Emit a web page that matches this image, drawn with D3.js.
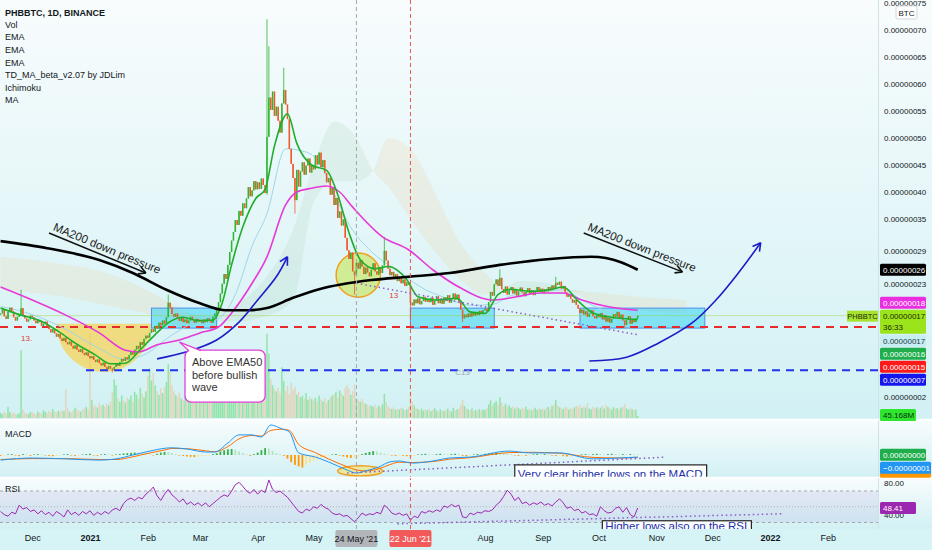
<!DOCTYPE html>
<html>
<head>
  <meta charset="utf-8">
  <title>PHBBTC, 1D, BINANCE</title>
  <script src="https://cdnjs.cloudflare.com/ajax/libs/d3/7.8.5/d3.min.js"></script>
  <style>
    body { margin: 0; background: #e3f6f8; }
    svg { display: block; font-family: "Liberation Sans", Arial, sans-serif; }
  </style>
</head>
<body>
<script>
// prices are in satoshi (1 = 0.00000001 BTC), one daily candle from firstDay on
var firstDay = "2020-11-14";
var firstOpen = 17.3;
var closes = [
  // Nov 2020
  17.5, 18.2, 17.0, 16.5, 17.8, 18.6, 17.9, 16.8, 16.2, 16.9, 17.4, 18.5, 17.2, 16.6, 16.0, 16.4, 17.1,
  // Dec
  16.8, 16.2, 15.7, 16.3, 15.9, 15.2, 15.6, 16.0, 15.1, 14.6, 14.0, 14.6, 13.8, 13.2, 13.7, 12.9,
  12.4, 13.0, 12.2, 11.8, 12.3, 11.5, 11.0, 11.6, 10.8, 10.4, 10.9, 10.2, 9.8, 10.3, 9.6,
  // Jan 2021
  9.2, 9.6, 8.9, 8.5, 9.0, 8.3, 7.9, 8.4, 7.6, 7.2, 7.8, 7.3, 7.0, 7.6, 8.2, 7.8,
  8.5, 9.1, 8.7, 9.4, 9.0, 9.8, 10.4, 9.9, 10.8, 11.5, 11.0, 12.2, 11.7, 12.8, 13.4,
  // Feb
  13.0, 13.9, 14.6, 14.1, 15.2, 14.7, 15.8, 15.3, 16.2, 15.6, 16.8, 19.5, 18.6, 17.4,
  16.9, 17.5, 16.6, 16.1, 16.7, 15.9, 16.4, 15.7, 16.2, 16.9, 16.3, 15.8, 16.5, 16.0,
  // Mar
  16.2, 15.7, 16.4, 15.9, 16.6, 16.1, 15.8, 16.9, 17.5, 18.4, 19.6, 21.2, 23.0, 24.8, 23.9, 26.5,
  28.9, 31.0, 32.6, 34.8, 33.9, 36.5, 35.6, 37.9, 37.0, 38.8, 40.9, 39.2, 40.3, 42.0, 40.5,
  // Apr
  41.8, 40.6, 42.5, 41.3, 39.8, 50.2, 57.5, 55.2, 58.6, 54.1, 55.8, 53.2, 51.0, 56.4, 58.9,
  56.2, 53.5, 48.0, 45.2, 42.6, 38.5, 44.1, 41.0, 43.8, 45.5, 43.2, 44.9, 46.2, 43.6, 45.0,
  // May
  44.2, 46.8, 45.1, 47.3, 44.6, 45.9, 43.5, 41.8, 42.6, 39.5, 40.8, 37.6, 38.9, 35.2, 36.4, 33.8,
  34.9, 31.5, 29.2, 27.6, 28.8, 25.3, 24.6, 26.9, 25.8, 27.4, 26.2, 24.8, 26.0, 25.1, 24.4,
  // Jun
  25.6, 26.8, 25.3, 24.7, 26.1, 25.0, 26.4, 29.1, 27.3, 25.8, 24.6, 25.2, 23.9, 24.8, 23.5,
  24.2, 23.1, 23.8, 22.6, 23.3, 22.8, 19.5, 19.0, 20.1, 19.4, 20.3, 19.2, 19.8, 20.6, 19.7,
  // Jul
  20.2, 19.6, 20.4, 19.1, 19.9, 20.7, 19.4, 20.1, 19.3, 20.5, 19.8, 20.9, 19.5, 20.3, 21.2, 20.1,
  21.0, 19.6, 18.2, 16.6, 17.3, 16.8, 17.5, 16.9, 17.6, 17.1, 17.8, 17.2, 18.0, 17.4, 18.1,
  // Aug
  18.4, 17.9, 19.6, 21.5, 20.8, 22.9, 23.8, 22.6, 24.1, 22.0, 21.3, 22.5, 21.0, 21.8, 22.4, 21.2,
  21.9, 20.8, 21.6, 22.3, 21.4, 20.7, 21.5, 22.2, 21.1, 21.8, 20.9, 21.7, 22.4, 21.5, 22.1,
  // Sep
  21.3, 22.0, 21.6, 22.4, 21.8, 22.7, 22.2, 23.2, 22.8, 23.4, 22.1, 22.6, 21.4, 20.6, 21.1,
  20.2, 19.5, 20.0, 19.1, 18.4, 17.6, 18.2, 17.3, 17.9, 16.9, 17.5, 18.1, 17.0, 16.6, 17.3,
  // Oct
  16.8, 17.6, 16.4, 17.2, 16.0, 16.7, 15.8, 16.5, 17.4, 16.9, 17.8,
  16.6, 17.3, 16.2, 15.4, 16.3, 17.0, 15.6, 16.4, 15.9, 16.6, 17.1
];
// notable wicks: [date, high, low]
var wicks = [
  ["2020-11-25", 21.9, null], ["2021-01-13", null, 6.6], ["2021-02-12", 21.0, null],
  ["2021-04-06", 72.0, 39.5], ["2021-04-07", 67.0, null], ["2021-04-15", 63.0, null],
  ["2021-04-21", null, 36.0], ["2021-05-23", null, 21.0], ["2021-06-08", 31.7, null],
  ["2021-06-22", null, 16.3], ["2021-07-20", null, 15.9], ["2021-08-09", 25.7, null],
  ["2021-09-08", 24.3, null], ["2021-10-15", null, 14.8]
];
// volume in millions
var volumes = [
  120, 90, 150, 110, 260, 140, 100, 130, 90, 80, 110, 1580, 200, 120, 100, 90, 140,
  130, 110, 90, 150, 120, 100, 180, 140, 110, 160, 130, 210, 150, 120, 170, 140, 190, 160, 660, 220,
  150, 130, 180, 240, 200, 170, 150, 190, 230, 260, 210,
  1980, 420, 260, 300, 240, 350, 280, 310, 260, 330, 290, 380, 600, 900, 760, 450, 380, 520, 410, 360,
  470, 430, 520, 380, 610, 540, 450, 700, 560, 480, 620,
  980, 1150, 870, 1050, 760, 620, 540, 690, 580, 720, 840, 1250, 1100, 760, 620, 540, 480, 590, 450, 420,
  510, 470, 390, 560, 430, 380, 460, 520,
  440, 380, 520, 410, 360, 470, 390, 560, 680, 880, 1050, 960, 820, 760, 900, 1100, 880, 720, 640, 700,
  580, 660, 540, 720, 610, 580, 650, 540, 690, 620, 560,
  580, 520, 640, 560, 720, 1960, 1500, 900, 760, 680, 620, 700, 580, 1180, 860, 620, 740, 560, 820, 660,
  720, 540, 610, 480, 520, 450, 580, 420, 490, 440,
  410, 470, 380, 520, 440, 390, 460, 360, 420, 480, 520, 560, 610, 480, 640, 580, 520, 700, 760, 680,
  540, 620, 780, 460, 420, 380, 440, 360, 330, 300, 280,
  290, 260, 310, 240, 280, 250, 320, 560, 380, 270, 230, 210, 250, 190, 220, 200, 240, 210, 180, 200,
  260, 620, 380, 290, 240, 210, 190, 220, 170, 200,
  180, 210, 160, 190, 230, 170, 150, 200, 180, 160, 190, 220, 170, 150, 240, 180, 200, 230, 310, 420,
  280, 230, 200, 180, 220, 170, 190, 160, 210, 180, 200,
  190, 230, 320, 410, 280, 350, 390, 310, 480, 360, 280, 330, 260, 300, 240, 270, 220, 260, 230, 200,
  240, 210, 260, 190, 220, 180, 210, 240, 190, 230, 200,
  220, 190, 240, 260, 210, 280, 320, 420, 300, 250, 230, 210, 260, 240, 200, 230, 210, 250, 280, 260,
  300, 230, 270, 240, 350, 220, 200, 260, 230, 250,
  210, 240, 280, 220, 300, 260, 230, 190, 250, 210, 230, 200, 240, 260, 330, 220, 190, 240, 210, 180, 200, 45.168
];

// moving averages
var ma200Dates = ["2020-11-14", "2020-12-09", "2021-01-06", "2021-01-24", "2021-02-11", "2021-03-01", "2021-03-15",
  "2021-03-27", "2021-04-06", "2021-04-20", "2021-05-04", "2021-06-01", "2021-06-21", "2021-07-13", "2021-08-09",
  "2021-09-05", "2021-09-27", "2021-10-13", "2021-10-22"];
var ma200Vals = [30.9, 29.6, 27.4, 25.0, 21.9, 19.4, 18.1, 18.1, 18.5, 20.4, 22.0, 23.7, 24.3, 25.0, 26.5, 27.6, 28.0, 27.0, 25.6];

var ema50Dates = ["2020-11-14", "2020-12-01", "2020-12-19", "2021-01-06", "2021-01-20", "2021-01-27", "2021-02-06",
  "2021-02-18", "2021-03-01", "2021-03-11", "2021-03-18", "2021-03-29", "2021-04-06", "2021-04-16", "2021-04-22",
  "2021-04-30", "2021-05-08", "2021-05-15", "2021-05-22", "2021-06-07", "2021-06-21", "2021-07-04", "2021-07-18",
  "2021-08-05", "2021-08-18", "2021-08-30", "2021-09-12", "2021-09-22", "2021-10-07", "2021-10-22"];
var ema50Vals = [22.4, 20.0, 17.2, 13.9, 10.7, 10.4, 11.7, 12.6, 13.9, 15.0, 17.6, 23.1, 28.0, 37.6, 40.0,
  40.7, 41.1, 40.0, 37.2, 31.7, 29.3, 25.6, 22.4, 20.0, 20.6, 21.3, 21.3, 20.0, 18.7, 18.1];

var emaBlueDates = ["2020-11-14", "2020-12-01", "2020-12-19", "2021-01-06", "2021-01-20", "2021-02-01", "2021-02-11",
  "2021-02-25", "2021-03-10", "2021-03-20", "2021-03-29", "2021-04-06", "2021-04-16", "2021-04-26", "2021-05-05",
  "2021-05-11", "2021-05-20", "2021-06-01", "2021-06-17", "2021-06-27", "2021-07-10", "2021-07-25", "2021-08-05",
  "2021-08-15", "2021-08-30", "2021-09-12", "2021-09-22", "2021-10-05", "2021-10-22"];
var emaBlueVals = [18.8, 17.3, 14.6, 11.0, 9.0, 10.2, 12.8, 15.6, 16.4, 21.0, 30.0, 36.0, 48.0, 47.5, 45.0,
  40.5, 34.0, 29.0, 25.0, 22.5, 20.5, 19.0, 19.2, 20.8, 21.6, 21.9, 20.0, 18.0, 17.0];

var emaGreenDates = ["2020-11-14", "2020-11-25", "2020-12-05", "2020-12-15", "2020-12-25", "2021-01-04", "2021-01-12",
  "2021-01-20", "2021-01-28", "2021-02-05", "2021-02-13", "2021-02-20", "2021-02-28", "2021-03-08", "2021-03-13",
  "2021-03-18", "2021-03-24", "2021-03-31", "2021-04-05", "2021-04-10", "2021-04-17", "2021-04-22", "2021-04-30",
  "2021-05-08", "2021-05-14", "2021-05-20", "2021-05-26", "2021-06-03", "2021-06-10", "2021-06-20", "2021-06-26",
  "2021-07-05", "2021-07-17", "2021-07-24", "2021-08-01", "2021-08-08", "2021-08-15", "2021-08-25", "2021-09-05",
  "2021-09-12", "2021-09-20", "2021-09-28", "2021-10-08", "2021-10-22"];
var emaGreenVals = [18.5, 17.2, 16.2, 14.2, 11.8, 9.8, 8.2, 8.3, 10.8, 13.6, 16.0, 16.8, 16.2, 16.3, 19.5,
  26.5, 33.5, 38.8, 40.5, 48.5, 54.5, 49.0, 45.0, 44.0, 39.5, 32.5, 27.5, 25.8, 26.2, 23.8, 20.6,
  20.0, 20.3, 17.8, 17.5, 21.0, 22.0, 21.6, 21.9, 22.4, 19.8, 17.6, 16.8, 16.4];

// Ichimoku cloud (projected 26 days ahead)
var cloudDates = ["2020-11-14", "2020-12-10", "2021-01-10", "2021-02-05", "2021-02-20", "2021-03-05", "2021-03-20",
  "2021-04-05", "2021-04-20", "2021-05-01", "2021-05-12", "2021-05-24", "2021-06-02", "2021-06-10", "2021-06-22",
  "2021-07-05", "2021-07-18", "2021-08-01", "2021-08-10", "2021-08-20", "2021-09-05", "2021-09-15", "2021-09-25",
  "2021-10-10", "2021-10-25", "2021-11-17"];
var spanA = [22, 21, 19, 17, 15, 17, 19, 24, 33, 45, 53, 50, 44, 41, 35, 29, 24, 21, 22, 23.5, 23, 22, 20, 18.5, 18, 17.5];
var spanB = [28, 27, 25, 21, 18, 16, 16, 17, 20, 38, 42, 42, 44, 50, 48, 40, 31, 25, 22, 21, 21, 21.5, 21.5, 21, 20.5, 20];

// MACD (satoshi)
var macdDates = ["2020-11-14", "2020-12-01", "2020-12-19", "2021-01-06", "2021-01-15", "2021-01-24", "2021-01-31",
  "2021-02-11", "2021-02-14", "2021-02-22", "2021-03-04", "2021-03-09", "2021-03-16", "2021-03-22", "2021-03-29",
  "2021-04-03", "2021-04-08", "2021-04-14", "2021-04-18", "2021-04-23", "2021-05-02", "2021-05-09", "2021-05-19",
  "2021-05-24", "2021-05-29", "2021-06-05", "2021-06-11", "2021-06-16", "2021-06-23", "2021-07-04", "2021-07-13",
  "2021-07-24", "2021-08-14", "2021-08-25", "2021-09-10", "2021-09-28", "2021-10-12", "2021-10-22"];
var macdLine = [-1.7, -1.0, -1.3, -1.7, -1.3, 0, 1.0, 2.3, 2.4, 2.0, 1.0, 1.0, 4.0, 6.7, 6.7, 6.0, 10, 8.7, 7.7,
  0.7, -0.7, -2.3, -5, -6, -5.3, -4, -2.3, -2, -2.7, -2, -1, -0.7, 1.3, 0.7, 0.7, -1.3, -1.0, -0.7];
var signalLine = [-1.5, -1.2, -1.2, -1.5, -1.5, -0.6, 0.4, 1.8, 2.2, 2.1, 1.4, 1.1, 2.8, 5.4, 6.5, 6.3, 8.2, 8.6, 8.2,
  3.5, 0.8, -1.3, -3.9, -5.0, -5.3, -4.6, -3.2, -2.4, -2.5, -2.2, -1.4, -0.9, 0.8, 0.9, 0.6, -0.8, -1.0, -0.8];
// histogram and RSI read every second day from firstDay
var macdHist = [
  -0.3, -0.2, 0.2, 0.3, -0.2, -0.4, 0.3, 0.2, -0.3, 0.2,
  0.3, 0.2, -0.2, -0.3, -0.4, -0.3, -0.2, 0.2, 0.3, -0.2,
  -0.3, -0.2, 0.2, 0.3, 0.4, -0.2, -0.3, 0.2, 0.3, 0.2,
  -0.2, 0.2, 0.3, 0.5, 0.6, 0.7, 0.8, 0.6, 0.5, 0.3,
  0.2, -0.2, 0.4, 0.8, 1.0, 0.9, 0.6, 0.3, -0.2, -0.3,
  -0.5, -0.6, -0.7, -0.5, -0.4, -0.3, -0.2, 0.3, 0.6, 1.2,
  1.6, 1.9, 2.0, 1.7, 1.2, 0.6, 0.2, -0.3, 0.3, 0.8,
  1.6, 2.3, 2.1, 1.4, 0.6, 0.3, -0.3, -1.2, -2.4, -3.3,
  -3.8, -4.2, -3.3, -2.6, -2.0, -1.5, -1.0, -0.6, -0.3, 0.2,
  0.3, -0.2, -0.5, -0.8, -1.0, -0.9, -0.6, 0.3, 0.7, 1.0,
  1.3, 1.2, 0.8, 0.4, 0.2, -0.2, -0.3, -0.2, -0.3, -0.4,
  -0.5, -0.3, 0.2, 0.3, 0.4, 0.3, 0.2, 0.3, 0.4, 0.3,
  0.2, 0.3, 0.4, 0.3, -0.3, -0.4, -0.2, 0.2, 0.3, 0.2,
  0.4, 0.5, 0.6, 0.8, 0.7, 0.5, 0.3, 0.2, -0.2, -0.3,
  -0.2, -0.3, -0.2, 0.2, 0.3, 0.2, 0.3, 0.2, -0.2, -0.3,
  -0.2, -0.4, -0.5, -0.4, -0.3, -0.2, 0.2, 0.3, 0.2, 0.3,
  0.4, 0.3, 0.2, 0.3, 0.4, 0.3, 0.2, 0.3, 0.2, 0.3,
  0.2, 0.1
];
var rsiValues = [
  44, 40, 38, 43, 41, 52, 47, 49, 44, 46,
  41, 45, 40, 43, 38, 44, 41, 37, 46, 40,
  43, 39, 44, 41, 45, 39, 43, 40, 44, 41,
  46, 48, 45, 54, 59, 61, 58, 62, 60, 66,
  70, 75, 64, 58, 66, 72, 65, 61, 56, 60,
  53, 56, 52, 55, 51, 55, 50, 54, 58, 62,
  65, 63, 70, 78, 81, 76, 70, 67, 72, 66,
  71, 68, 84, 72, 68, 70, 66, 62, 56, 50,
  44, 42, 47, 45, 50, 48, 53, 49, 47, 42,
  40, 41, 38, 39, 35, 31, 36, 42, 39, 41,
  40, 43, 41, 52, 48, 42, 40, 42, 39, 41,
  33, 38, 36, 44, 42, 45, 43, 46, 44, 51,
  49, 53, 50, 52, 37, 36, 42, 40, 43, 42,
  45, 44, 46, 52, 56, 63, 71, 66, 58, 62,
  54, 56, 52, 55, 53, 56, 52, 54, 51, 56,
  60, 55, 48, 50, 45, 47, 42, 44, 40, 41,
  38, 50, 45, 42, 43, 48, 50, 43, 49, 40,
  37, 48.41
];

// axes
var priceTicks = [75, 70, 65, 60, 55, 50, 45, 40, 35, 29, 23, 2];
var rsiTicks = [80, 40];
var timeTickDates = ["2020-12-01", "2021-01-01", "2021-02-01", "2021-03-01", "2021-04-01", "2021-05-01",
  "2021-08-01", "2021-09-01", "2021-10-01", "2021-11-01", "2021-12-01", "2022-01-01", "2022-02-01"];
var timeTickLabels = ["Dec", "2021", "Feb", "Mar", "Apr", "May", "Aug", "Sep", "Oct", "Nov", "Dec", "2022", "Feb"];
var markerDates = ["2021-05-24", "2021-06-22"];
var markerLabels = ["24 May '21", "22 Jun '21"];

// drawings on the chart
var supportLevel = 15;
var cupLowLevel = 7;
var cupLowStart = "2021-01-01";
var cupDates = ["2020-12-14", "2021-02-03"];
var cupTop = 15.6, cupBottom = 6.7;
var boxStarts = ["2021-02-03", "2021-06-22", "2021-09-21"];
var boxEnds = ["2021-03-10", "2021-08-06", "2021-11-27"];
var boxTop = 18.5, boxBottom = 14.8;
var circleAt = ["2021-05-25", 24.6], circleR = 4.1;
var priceTrend = [["2021-05-24", 23.1], ["2021-10-23", 13.5]];
var macdTrend = [["2021-05-19", -6], ["2021-11-06", -0.7]];
var rsiTrend = [["2021-06-15", 28.3], ["2022-01-08", 41.1]];
var macdRing = ["2021-05-26", -5.3];
var pressureNotes = [
  [["2020-12-10", 32.4], ["2021-01-31", 25.0]],
  [["2021-09-23", 32.4], ["2021-11-15", 25.2]]
];
var bullArrows = [
  [["2021-02-06", 9.1], ["2021-02-22", 10.4], ["2021-03-10", 12.6], ["2021-03-22", 15.9], ["2021-04-01", 20.0], ["2021-04-11", 24.3], ["2021-04-17", 28.0]],
  [["2021-09-26", 8.7], ["2021-10-16", 9.4], ["2021-11-02", 12.0], ["2021-11-20", 15.7], ["2021-12-03", 20.0], ["2021-12-15", 25.0], ["2021-12-27", 30.6]]
];
var calloutBox = { left: "2021-02-21", right: "2021-04-05", top: 10.7, bottom: 1.1, tip: ["2021-02-18", 12.2] };
var calloutLines = ["Above EMA50", "before bullish", "wave"];
var macdNote = { left: "2021-08-17", right: "2021-11-28", top: -3.3, text: "Very clear higher lows on the MACD" };
var rsiNote = { left: "2021-10-03", right: "2021-12-22", top: 32.2, text: "Higher lows also on the RSI" };
var tdMarks = [["2020-11-28", 13.0, "13.", "#e53935"], ["2021-06-13", 20.9, "13", "#e53935"], ["2021-07-20", 6.7, "C13", "#9aa9b0"]];
var legendTitle = "PHBBTC, 1D, BINANCE";
var legendItems = ["Vol", "EMA", "EMA", "EMA", "TD_MA_beta_v2.07 by JDLim", "Ichimoku", "MA"];
var countdown = "36:33";

//--------------------------------

var parse = d3.utcParse("%Y-%m-%d");
var day0 = parse(firstDay);
var W = 878;
var fmt8 = d3.format(".8f");
function price(v) { return fmt8(v * 1e-8); }
function pts(dates, vals) { return dates.map(function (d, i) { return [parse(d), vals[i]]; }); }

var x = d3.scaleUtc().domain([parse("2021-01-01"), parse("2022-01-01")]).range([90, 770]);
var y = d3.scaleLinear().domain([0, 75]).range([408, 3]);
var yVol = d3.scaleLinear().domain([0, 2000]).range([418, 332]);
var yMacd = d3.scaleLinear().domain([-6, 10]).range([473, 425]);
var yRsi = d3.scaleLinear().domain([30, 70]).range([522.5, 491]);

var candles = closes.map(function (c, i) {
  var o = i ? closes[i - 1] : firstOpen;
  return { date: d3.utcDay.offset(day0, i), o: o, c: c, h: Math.max(o, c), l: Math.min(o, c), v: volumes[i] };
});
wicks.forEach(function (w) {
  var k = d3.utcDay.count(day0, parse(w[0]));
  if (w[1] != null) candles[k].h = Math.max(candles[k].h, w[1]);
  if (w[2] != null) candles[k].l = Math.min(candles[k].l, w[2]);
});
var last = candles[candles.length - 1];

var svg = d3.select("body").append("svg").attr("width", 932).attr("height", 550);
var defs = svg.append("defs");
var grad = defs.append("linearGradient").attr("id", "paneBg").attr("x1", 0).attr("y1", 0).attr("x2", 0).attr("y2", 1);
grad.append("stop").attr("offset", "0%").attr("stop-color", "#f8fcfd");
grad.append("stop").attr("offset", "100%").attr("stop-color", "#d2f1f4");

var panes = [[0, 419], [420, 477], [478, 529]];
panes.forEach(function (p, i) {
  svg.append("rect").attr("x", 0).attr("y", p[0]).attr("width", 932).attr("height", p[1] - p[0]).attr("fill", "url(#paneBg)");
  defs.append("clipPath").attr("id", "clip" + i).append("rect")
    .attr("x", 0).attr("y", p[0]).attr("width", W).attr("height", p[1] - p[0]);
});
svg.append("rect").attr("x", 0).attr("y", 529).attr("width", 932).attr("height", 21).attr("fill", "#d6f3f6");
svg.append("line").attr("x1", W + 0.5).attr("x2", W + 0.5).attr("y1", 0).attr("y2", 529).attr("stroke", "#cfe3e7");

var main = svg.append("g").attr("clip-path", "url(#clip0)");
var macdG = svg.append("g").attr("clip-path", "url(#clip1)");
var rsiG = svg.append("g").attr("clip-path", "url(#clip2)");

// Ichimoku cloud
var cloud = pts(cloudDates, spanA).map(function (d, i) { return [d[0], d[1], spanB[i]]; });
main.append("path").datum(cloud)
  .attr("d", d3.area().x(function (d) { return x(d[0]); }).y0(function (d) { return y(d[2]); })
    .y1(function (d) { return y(Math.max(d[1], d[2])); }).curve(d3.curveMonotoneX))
  .attr("fill", "rgba(160,200,165,0.17)");
main.append("path").datum(cloud)
  .attr("d", d3.area().x(function (d) { return x(d[0]); }).y0(function (d) { return y(d[1]); })
    .y1(function (d) { return y(Math.max(d[1], d[2])); }).curve(d3.curveMonotoneX))
  .attr("fill", "rgba(240,205,150,0.2)");

// volume
main.append("g").selectAll("rect").data(candles).join("rect")
  .attr("x", function (d) { return x(d.date) - 0.75; }).attr("width", 1.5)
  .attr("y", function (d) { return yVol(d.v); })
  .attr("height", function (d) { return yVol(0) - yVol(d.v); })
  .attr("fill", function (d) { return d.c >= d.o ? "rgba(100,220,115,0.6)" : "rgba(235,195,150,0.6)"; });

// cup, boxes, circle
var cx0 = x(parse(cupDates[0])), cx1 = x(parse(cupDates[1]));
main.append("path")
  .attr("d", "M" + cx0 + "," + y(cupTop) + " A" + (cx1 - cx0) / 2 + "," + (y(cupBottom) - y(cupTop)) + " 0 0 0 " + cx1 + "," + y(cupTop) + " Z")
  .attr("fill", "rgba(255,205,50,0.6)");
main.selectAll("rect.box").data(boxStarts).join("rect").attr("class", "box")
  .attr("x", function (d) { return x(parse(d)); })
  .attr("width", function (d, i) { return x(parse(boxEnds[i])) - x(parse(d)); })
  .attr("y", y(boxTop)).attr("height", y(boxBottom) - y(boxTop))
  .attr("fill", "rgba(55,212,240,0.55)").attr("stroke", "#4f8fe8").attr("stroke-width", 1);
main.append("circle").attr("cx", x(parse(circleAt[0]))).attr("cy", y(circleAt[1]))
  .attr("r", y(0) - y(circleR)).attr("fill", "rgba(195,228,70,0.55)").attr("stroke", "#f0a020").attr("stroke-width", 1.5);

// horizontal levels
main.append("line").attr("x1", 0).attr("x2", W).attr("y1", y(last.c)).attr("y2", y(last.c))
  .attr("stroke", "rgba(150,215,60,0.45)");
main.append("line").attr("x1", 0).attr("x2", W).attr("y1", y(supportLevel)).attr("y2", y(supportLevel))
  .attr("stroke", "#e52b2b").attr("stroke-width", 2).attr("stroke-dasharray", "8,6");
main.append("line").attr("x1", x(parse(cupLowStart)) - 4).attr("x2", W).attr("y1", y(cupLowLevel)).attr("y2", y(cupLowLevel))
  .attr("stroke", "#2233ee").attr("stroke-width", 2).attr("stroke-dasharray", "8,6");

// vertical markers
markerDates.forEach(function (d, i) {
  svg.append("line").attr("x1", x(parse(d))).attr("x2", x(parse(d))).attr("y1", 0).attr("y2", 529)
    .attr("stroke", i ? "#ef5350" : "#a3a8ae").attr("stroke-width", 1).attr("stroke-dasharray", "4,3");
});

// lines
function lineOf(yScale) {
  return d3.line().x(function (d) { return x(d[0]); }).y(function (d) { return yScale(d[1]); }).curve(d3.curveMonotoneX);
}
main.append("path").datum(pts(emaBlueDates, emaBlueVals)).attr("d", lineOf(y))
  .attr("fill", "none").attr("stroke", "#9fd6e6").attr("stroke-width", 1);

// candles
var gC = main.append("g");
gC.selectAll("line").data(candles).join("line")
  .attr("x1", function (d) { return x(d.date); }).attr("x2", function (d) { return x(d.date); })
  .attr("y1", function (d) { return y(d.h); }).attr("y2", function (d) { return y(d.l); })
  .attr("stroke", function (d) { return d.c >= d.o ? "#2fb52f" : "#f0582a"; }).attr("stroke-width", 0.8);
gC.selectAll("rect").data(candles).join("rect")
  .attr("x", function (d) { return x(d.date) - 0.75; }).attr("width", 1.5)
  .attr("y", function (d) { return y(Math.max(d.o, d.c)); })
  .attr("height", function (d) { return Math.max(0.8, Math.abs(y(d.o) - y(d.c))); })
  .attr("fill", function (d) { return d.c >= d.o ? "#2fb52f" : "#f0582a"; });

main.append("path").datum(pts(ema50Dates, ema50Vals)).attr("d", lineOf(y))
  .attr("fill", "none").attr("stroke", "#e838d8").attr("stroke-width", 1.6);
main.append("path").datum(pts(emaGreenDates, emaGreenVals)).attr("d", lineOf(y))
  .attr("fill", "none").attr("stroke", "#1fae2a").attr("stroke-width", 1.6);
main.append("path").datum(pts(ma200Dates, ma200Vals)).attr("d", lineOf(y))
  .attr("fill", "none").attr("stroke", "#000").attr("stroke-width", 2.6);

// dotted trend line
function seg(g, p, yScale) {
  g.append("line").attr("x1", x(parse(p[0][0]))).attr("y1", yScale(p[0][1]))
    .attr("x2", x(parse(p[1][0]))).attr("y2", yScale(p[1][1]))
    .attr("stroke", "#8a5cc7").attr("stroke-width", 1.5).attr("stroke-dasharray", "1.5,3");
}
seg(main, priceTrend, y);

// TD labels
tdMarks.forEach(function (m) {
  main.append("text").attr("x", x(parse(m[0]))).attr("y", y(m[1]) + 3).attr("text-anchor", "middle")
    .attr("font-size", 8).attr("fill", m[3]).text(m[2]);
});

// chevron arrow head
function head(g, a, b, color, len) {
  var ang = Math.atan2(b[1] - a[1], b[0] - a[0]);
  [-0.5, 0.5].forEach(function (s) {
    g.append("line").attr("x1", b[0]).attr("y1", b[1])
      .attr("x2", b[0] - len * Math.cos(ang + s)).attr("y2", b[1] - len * Math.sin(ang + s))
      .attr("stroke", color).attr("stroke-width", 1.6);
  });
}

// "MA200 down pressure" notes
pressureNotes.forEach(function (n) {
  var a = [x(parse(n[0][0])), y(n[0][1])], b = [x(parse(n[1][0])), y(n[1][1])];
  var deg = Math.atan2(b[1] - a[1], b[0] - a[0]) * 180 / Math.PI;
  main.append("line").attr("x1", a[0]).attr("y1", a[1]).attr("x2", b[0]).attr("y2", b[1])
    .attr("stroke", "#111").attr("stroke-width", 1.5);
  head(main, a, b, "#111", 8);
  main.append("text").attr("transform", "translate(" + a[0] + "," + a[1] + ") rotate(" + deg + ")")
    .attr("x", 2).attr("y", -4).attr("font-size", 11.5).attr("fill", "#1a1a1a").text("MA200 down pressure");
});

// blue arrows
bullArrows.forEach(function (arr) {
  var p = arr.map(function (d) { return [x(parse(d[0])), y(d[1])]; });
  main.append("path").datum(p).attr("d", d3.line().curve(d3.curveCatmullRom))
    .attr("fill", "none").attr("stroke", "#1c1cc9").attr("stroke-width", 1.6);
  head(main, p[p.length - 2], p[p.length - 1], "#1c1cc9", 9);
});

// callout
var bl = x(parse(calloutBox.left)), br = x(parse(calloutBox.right));
var bt = y(calloutBox.top), bb = y(calloutBox.bottom);
var tip = [x(parse(calloutBox.tip[0])), y(calloutBox.tip[1])];
main.append("rect").attr("x", bl).attr("y", bt).attr("width", br - bl).attr("height", bb - bt).attr("rx", 6)
  .attr("fill", "#fff").attr("stroke", "#e23fd9").attr("stroke-width", 1.3);
main.append("path").attr("d", "M" + (bl + 4) + "," + (bt + 1) + "L" + tip[0] + "," + tip[1] + "L" + (bl + 16) + "," + (bt + 1) + "Z")
  .attr("fill", "#fff");
main.append("path").attr("d", "M" + (bl + 4) + "," + (bt + 0.5) + "L" + tip[0] + "," + tip[1] + "L" + (bl + 16) + "," + (bt + 0.5))
  .attr("fill", "none").attr("stroke", "#e23fd9").attr("stroke-width", 1.3);
calloutLines.forEach(function (t, i) {
  main.append("text").attr("x", bl + 7).attr("y", bt + 16 + i * 12.3).attr("font-size", 11).attr("fill", "#333").text(t);
});

// MACD pane
macdG.append("g").selectAll("rect").data(macdHist).join("rect")
  .attr("x", function (d, i) { return x(d3.utcDay.offset(day0, 2 * i)) - 0.9; }).attr("width", 1.8)
  .attr("y", function (d) { return Math.min(yMacd(d), yMacd(0)); })
  .attr("height", function (d) { return Math.abs(yMacd(d) - yMacd(0)); })
  .attr("fill", function (d, i) {
    var prev = i ? macdHist[i - 1] : 0;
    if (d >= 0) return d >= prev ? "#35b04a" : "#b5e3bc";
    return d < prev ? "#ff9800" : "#ffe08a";
  });
var ring = [x(parse(macdRing[0])), yMacd(macdRing[1])];
macdG.append("ellipse").attr("cx", ring[0]).attr("cy", ring[1])
  .attr("rx", x(d3.utcDay.offset(parse(macdRing[0]), 12)) - ring[0]).attr("ry", yMacd(0) - yMacd(1.7))
  .attr("fill", "rgba(255,220,60,0.45)").attr("stroke", "#f0a020").attr("stroke-width", 1.5);
macdG.append("path").datum(pts(macdDates, signalLine)).attr("d", lineOf(yMacd))
  .attr("fill", "none").attr("stroke", "#ff6d00").attr("stroke-width", 1);
macdG.append("path").datum(pts(macdDates, macdLine)).attr("d", lineOf(yMacd))
  .attr("fill", "none").attr("stroke", "#2196f3").attr("stroke-width", 1);
seg(macdG, macdTrend, yMacd);

function noteBox(g, n, yScale, pad) {
  var l = x(parse(n.left)), r = x(parse(n.right)), t = yScale(n.top);
  g.append("rect").attr("x", l).attr("y", t).attr("width", r - l).attr("height", 30)
    .attr("fill", "#fdfeff").attr("stroke", "#222").attr("stroke-width", 1.2);
  g.append("text").attr("x", l + 3).attr("y", t + pad).attr("font-size", 11.5).attr("fill", "#1c2fa8").text(n.text);
}
noteBox(macdG, macdNote, yMacd, 13.5);

// RSI pane
rsiG.append("rect").attr("x", 0).attr("width", W).attr("y", yRsi(70)).attr("height", yRsi(30) - yRsi(70))
  .attr("fill", "rgba(126,87,194,0.1)");
[70, 30].forEach(function (v) {
  rsiG.append("line").attr("x1", 0).attr("x2", W).attr("y1", yRsi(v)).attr("y2", yRsi(v))
    .attr("stroke", "#a4a6ad").attr("stroke-dasharray", "3,3");
});
rsiG.append("line").attr("x1", 0).attr("x2", W).attr("y1", yRsi(50)).attr("y2", yRsi(50))
  .attr("stroke", "#b2b4bb").attr("stroke-dasharray", "1,2");
rsiG.append("path").datum(rsiValues.map(function (v, i) { return [d3.utcDay.offset(day0, 2 * i), v]; }))
  .attr("d", d3.line().x(function (d) { return x(d[0]); }).y(function (d) { return yRsi(d[1]); }))
  .attr("fill", "none").attr("stroke", "#9c27b0").attr("stroke-width", 1);
seg(rsiG, rsiTrend, yRsi);
noteBox(rsiG, rsiNote, yRsi, 9.5);

// pane separators
[419.5, 477.5].forEach(function (v) {
  svg.append("line").attr("x1", 0).attr("x2", 932).attr("y1", v).attr("y2", v).attr("stroke", "#ffffff").attr("stroke-width", 1.5);
});

// price scale
var axR = svg.append("g").attr("transform", "translate(882,0)")
  .call(d3.axisRight(y).tickValues(priceTicks).tickFormat(price).tickSize(0).tickPadding(2));
axR.select(".domain").remove();
axR.selectAll("text").attr("font-size", 8).attr("fill", "#131722").attr("font-family", "Liberation Sans, Arial, sans-serif");
var axRsi = svg.append("g").attr("transform", "translate(882,0)")
  .call(d3.axisRight(yRsi).tickValues(rsiTicks).tickFormat(d3.format(".2f")).tickSize(0).tickPadding(2));
axRsi.select(".domain").remove();
axRsi.selectAll("text").attr("font-size", 8).attr("fill", "#131722").attr("font-family", "Liberation Sans, Arial, sans-serif");

svg.append("rect").attr("x", 896).attr("y", 6).attr("width", 21).attr("height", 13).attr("rx", 2)
  .attr("fill", "#fff").attr("stroke", "#d6d8dd");
svg.append("text").attr("x", 906.5).attr("y", 15.5).attr("text-anchor", "middle").attr("font-size", 8).attr("fill", "#131722").text("BTC");

function tag(top, h, fill, color, lines, w) {
  svg.append("rect").attr("x", 880).attr("y", top).attr("width", w || 46).attr("height", h).attr("rx", 1.5).attr("fill", fill);
  lines.forEach(function (t, i) {
    svg.append("text").attr("x", 883).attr("y", top + 9 + i * 11).attr("font-size", 8).attr("fill", color).text(t);
  });
}

// value labels, stacked around the price label like the platform does
var mainTags = [
  { v: ma200Vals[ma200Vals.length - 1], fill: "#000", color: "#fff" },
  { v: ema50Vals[ema50Vals.length - 1], fill: "#ea2fe0", color: "#fff" },
  { v: last.c, fill: "#9be31a", color: "#1b2a05", h: 24, extra: countdown },
  { v: emaBlueVals[emaBlueVals.length - 1], fill: "#c6eef3", color: "#1b3a40" },
  { v: emaGreenVals[emaGreenVals.length - 1], fill: "#1fae4b", color: "#fff" },
  { v: supportLevel, fill: "#ff1a1a", color: "#fff" },
  { v: cupLowLevel, fill: "#1515ee", color: "#fff" }
];
var pIdx = 2;
mainTags.forEach(function (t) { t.h = t.h || 12; t.top = y(t.v) - 6; });
for (var i = pIdx + 1; i < mainTags.length; i++) {
  mainTags[i].top = Math.max(mainTags[i].top, mainTags[i - 1].top + mainTags[i - 1].h + 1);
}
for (var j = pIdx - 1; j >= 0; j--) {
  mainTags[j].top = Math.min(mainTags[j].top, mainTags[j + 1].top - 1 - mainTags[j].h);
}
mainTags.forEach(function (t) {
  tag(t.top, t.h, t.fill, t.color, t.extra ? [price(t.v), t.extra] : [price(t.v)]);
});
var pTop = mainTags[pIdx].top;
svg.append("rect").attr("x", 847).attr("y", pTop + 1).attr("width", 31).attr("height", 11).attr("fill", "#a6e22e");
svg.append("text").attr("x", 862.5).attr("y", pTop + 9.5).attr("text-anchor", "middle").attr("font-size", 7.5).attr("fill", "#1b2a05").text("PHBBTC");

tag(yVol(last.v) - 7, 12, "#2fe62f", "#0b3010", [d3.format(".3f")(last.v) + "M"], 36);

var hLast = macdHist[macdHist.length - 1];
var hTop = yMacd(hLast) - 6;
tag(hTop + 17, 12, "#ff9800", "#fff", [""], 51);
tag(Math.max(yMacd(macdLine[macdLine.length - 1]) - 6, hTop + 13), 12, "#2196f3", "#fff", [price(macdLine[macdLine.length - 1])], 51);
tag(hTop, 12, "#1fae4b", "#fff", [price(hLast)]);
tag(yRsi(rsiValues[rsiValues.length - 1]) - 6, 12, "#9c27b0", "#fff", [d3.format(".2f")(rsiValues[rsiValues.length - 1])], 36);

// time scale
var axB = svg.append("g").attr("transform", "translate(0,529)")
  .call(d3.axisBottom(x).tickValues(timeTickDates.map(parse)).tickFormat(function (d, i) { return timeTickLabels[i]; })
    .tickSize(0).tickPadding(6));
axB.select(".domain").remove();
axB.selectAll("text").attr("font-size", 9).attr("fill", "#131722").attr("font-family", "Liberation Sans, Arial, sans-serif")
  .attr("font-weight", function (d, i) { return /^\d{4}$/.test(timeTickLabels[i]) ? "bold" : "normal"; });
markerDates.forEach(function (d, i) {
  var cx = x(parse(d));
  svg.append("rect").attr("x", cx - 21).attr("y", 530).attr("width", 42).attr("height", 17).attr("rx", 2)
    .attr("fill", i ? "#f25a5a" : "#b2b5ba");
  svg.append("text").attr("x", cx).attr("y", 542).attr("text-anchor", "middle").attr("font-size", 9)
    .attr("fill", i ? "#fff" : "#131722").text(markerLabels[i]);
});

// legend
svg.append("text").attr("x", 5).attr("y", 15.5).attr("font-size", 9).attr("font-weight", "bold").attr("fill", "#131722").text(legendTitle);
legendItems.forEach(function (t, i) {
  svg.append("text").attr("x", 5).attr("y", 27.8 + i * 12.6).attr("font-size", 9).attr("fill", "#131722").text(t);
});
svg.append("text").attr("x", 5).attr("y", 437).attr("font-size", 9).attr("fill", "#131722").text("MACD");
svg.append("text").attr("x", 5).attr("y", 492).attr("font-size", 9).attr("fill", "#131722").text("RSI");
</script>
</body>
</html>
